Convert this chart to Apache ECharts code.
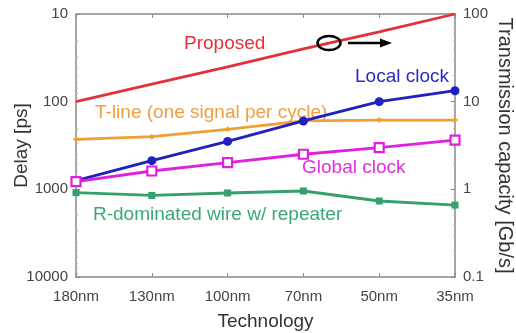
<!DOCTYPE html>
<html>
<head>
<meta charset="utf-8">
<script src="https://cdn.jsdelivr.net/npm/echarts@6/dist/echarts.min.js"></script>
<style>
html,body{margin:0;padding:0;background:#fff;}
#c{width:516px;height:333px;}
</style>
</head>
<body>
<div id="c"></div>
<script>
const categories = ['180nm','130nm','100nm','70nm','50nm','35nm'];
const proposed = [100, 63, 40, 25, 16, 10];
const tline = [269, 251, 207, 166, 162, 162];
const localClock = [797, 471, 284, 166, 100, 75];
const globalClock = [815, 618, 497, 398, 335, 274];
const rWire = [1091, 1175, 1101, 1045, 1359, 1510];
const delayTicks = [10, 100, 1000, 10000];
const capTicks = [100, 10, 1, 0.1];

const FONT = 'Liberation Sans, Arial, sans-serif';
const chart = echarts.init(document.getElementById('c'), null, {renderer:'canvas'});
const fmt = v => { const r = Math.round(v*1000)/1000; return String(r); };
const axisGray = '#8a8a8a';

chart.setOption({
  backgroundColor:'#fff',
  animation:false,
  grid:{left:76,right:61,top:14,bottom:56,show:false,containLabel:false,outerBoundsMode:'none'},
  xAxis:[{
    type:'category', data:categories, boundaryGap:false,
    name:'Technology', nameLocation:'middle', nameGap:35, nameMoveOverlap:false,
    nameTextStyle:{fontFamily:FONT,fontSize:19,color:'#333'},
    axisLine:{lineStyle:{color:axisGray,width:1.5}},
    axisTick:{inside:true,length:4,alignWithLabel:true,lineStyle:{color:axisGray}},
    axisLabel:{fontFamily:FONT,fontSize:15,color:'#444',margin:12},
    splitLine:{show:false}
  },{
    type:'category', data:categories, boundaryGap:false, position:'top',
    axisLine:{lineStyle:{color:axisGray,width:1.5}},
    axisTick:{inside:true,length:4,lineStyle:{color:axisGray}},
    axisLabel:{show:false}
  }],
  yAxis:[{
    type:'log', logBase:10, min:10, max:10000, inverse:true, position:'left',
    name:'Delay [ps]', nameLocation:'middle', nameGap:45, nameRotate:90, nameMoveOverlap:false,
    nameTextStyle:{fontFamily:FONT,fontSize:19,color:'#333'},
    axisLine:{show:true,lineStyle:{color:axisGray,width:1.5}},
    axisTick:{show:true,inside:true,length:4,lineStyle:{color:axisGray}},
    minorTick:{show:true,splitNumber:9,length:2,lineStyle:{color:'#bbb'}},
    axisLabel:{fontFamily:FONT,fontSize:15,color:'#444',margin:8,formatter:fmt},
    splitLine:{show:false}
  },{
    type:'log', logBase:10, min:0.1, max:100, position:'right',
    name:'Transmission capacity [Gb/s]', nameLocation:'middle', nameGap:40, nameRotate:-90, nameMoveOverlap:false,
    nameTextStyle:{fontFamily:FONT,fontSize:20,color:'#333'},
    axisLine:{show:true,lineStyle:{color:axisGray,width:1.5}},
    axisTick:{show:true,inside:true,length:4,lineStyle:{color:axisGray}},
    minorTick:{show:true,splitNumber:9,length:2,lineStyle:{color:'#bbb'}},
    axisLabel:{fontFamily:FONT,fontSize:15,color:'#444',margin:8,formatter:fmt},
    splitLine:{show:false}
  }],
  series:[
    {name:'Proposed',type:'line',data:proposed,yAxisIndex:0,showSymbol:false,symbol:'none',
     lineStyle:{color:'#e5303a',width:2.8},z:3},
    {name:'T-line',type:'line',data:tline,yAxisIndex:0,symbol:'diamond',symbolSize:6,
     itemStyle:{color:'#f0a030'},lineStyle:{color:'#f0a030',width:2.8}},
    {name:'Local clock',type:'line',data:localClock,yAxisIndex:0,symbol:'circle',symbolSize:9,
     itemStyle:{color:'#2020c0'},lineStyle:{color:'#2020c0',width:2.8},z:4},
    {name:'Global clock',type:'line',data:globalClock,yAxisIndex:0,symbol:'rect',symbolSize:9,
     itemStyle:{color:'#fff',borderColor:'#e020e0',borderWidth:2.2},lineStyle:{color:'#e020e0',width:2.8},z:5},
    {name:'R-dominated',type:'line',data:rWire,yAxisIndex:0,symbol:'rect',symbolSize:7,
     itemStyle:{color:'#34a06c'},lineStyle:{color:'#34a06c',width:2.8}}
  ],
  graphic:[
    {type:'text',left:184,top:34,style:{text:'Proposed',fill:'#e5303a',font:'19px '+FONT}},
    {type:'text',left:95,top:103,style:{text:'T-line (one signal per cycle)',fill:'#f0a040',font:'19px '+FONT}},
    {type:'text',left:355,top:67,style:{text:'Local clock',fill:'#2a2ac0',font:'19px '+FONT}},
    {type:'text',left:302,top:158,style:{text:'Global clock',fill:'#e030e0',font:'19px '+FONT}},
    {type:'text',left:93,top:205,style:{text:'R-dominated wire w/ repeater',fill:'#3aa874',font:'19px '+FONT}},
    {type:'ellipse',shape:{cx:329,cy:43,rx:11.5,ry:7},style:{fill:'none',stroke:'#000',lineWidth:2.5},z:10},
    {type:'line',shape:{x1:348,y1:43,x2:382,y2:43},style:{stroke:'#000',lineWidth:2.5},z:10},
    {type:'polygon',shape:{points:[[380,38.5],[392,43],[380,47.5]]},style:{fill:'#000'},z:10}
  ]
});
</script>
</body>
</html>
